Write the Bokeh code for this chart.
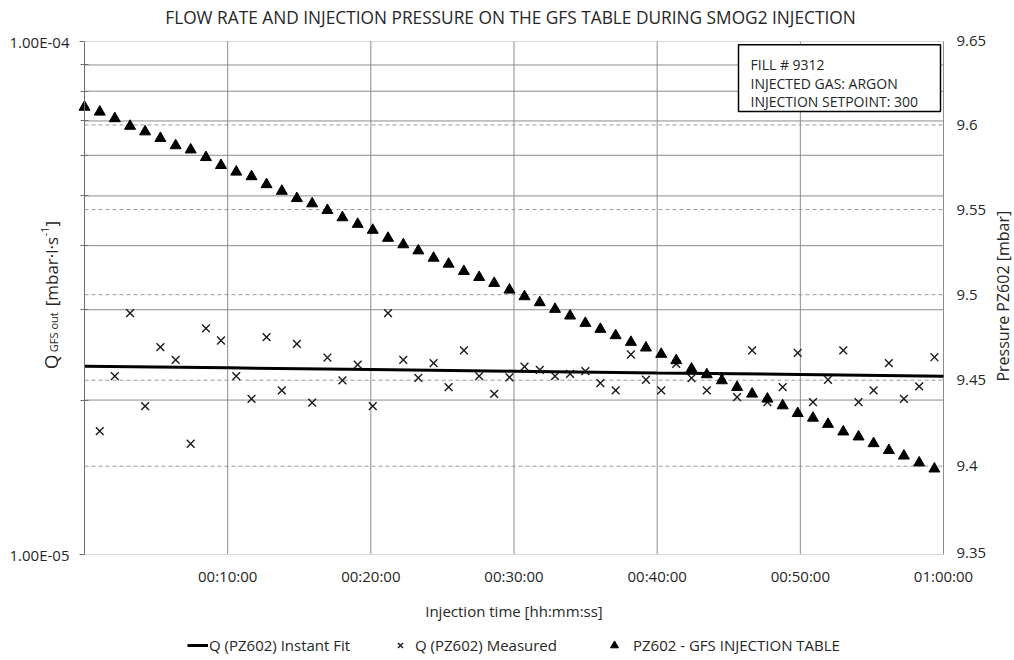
from math import pi
from bokeh.plotting import figure
from bokeh.models import (Range1d, LinearAxis, FixedTicker, CustomJSTickFormatter,
                          Label, BoxAnnotation, Legend, LegendItem)
from bokeh.embed import file_html
from bokeh.resources import INLINE

# ---------------- data ----------------
# sample times in seconds from injection start
t_sec = [0, 64, 127, 191, 254, 318, 382, 445, 509, 572,
         636, 700, 763, 827, 890, 954, 1018, 1081, 1145, 1208,
         1272, 1336, 1399, 1463, 1526, 1590, 1654, 1717, 1781, 1844,
         1908, 1972, 2035, 2099, 2162, 2226, 2290, 2353, 2417, 2480,
         2544, 2608, 2671, 2735, 2798, 2862, 2926, 2989, 3053, 3116,
         3180, 3244, 3307, 3371, 3434, 3498, 3562]

# PZ602 pressure on the GFS injection table [mbar]
pz602 = [9.6106, 9.6077, 9.6038, 9.5993, 9.5960, 9.5921, 9.5878, 9.5853, 9.5808, 9.5761,
         9.5722, 9.5695, 9.5648, 9.5609, 9.5566, 9.5535, 9.5496, 9.5453, 9.5414, 9.5379,
         9.5332, 9.5294, 9.5258, 9.5215, 9.5180, 9.5137, 9.5102, 9.5067, 9.5028, 9.4989,
         9.4954, 9.4915, 9.4876, 9.4833, 9.4798, 9.4761, 9.4722, 9.4689, 9.4652, 9.4615,
         9.4566, 9.4533, 9.4498, 9.4459, 9.4420, 9.4391, 9.4352, 9.4307, 9.4280, 9.4244,
         9.4200, 9.4171, 9.4132, 9.4092, 9.4060, 9.4020, 9.3985]

# measured flow (from the 2nd sample on) [mbar l/s]
q_measured = [1.739e-05, 2.226e-05, 2.954e-05, 1.946e-05, 2.536e-05, 2.396e-05, 1.644e-05, 2.758e-05, 2.613e-05, 2.226e-05,
              2.011e-05, 2.652e-05, 2.088e-05, 2.575e-05, 1.978e-05, 2.421e-05, 2.184e-05, 2.346e-05, 1.946e-05, 2.954e-05,
              2.396e-05, 2.210e-05, 2.360e-05, 2.119e-05, 2.499e-05, 2.226e-05, 2.057e-05, 2.215e-05, 2.325e-05, 2.291e-05,
              2.226e-05, 2.250e-05, 2.277e-05, 2.158e-05, 2.088e-05, 2.454e-05, 2.191e-05, 2.088e-05, 2.353e-05, 2.206e-05,
              2.088e-05, 2.223e-05, 2.026e-05, 2.499e-05, 1.981e-05, 2.119e-05, 2.473e-05, 1.981e-05, 2.191e-05, 2.499e-05,
              1.981e-05, 2.088e-05, 2.360e-05, 2.011e-05, 2.126e-05, 2.424e-05]
t_measured = t_sec[1:]

# instant fit
t_fit = [0, 600, 1200, 1800, 2400, 3000, 3600]
q_fit = [2.328e-05, 2.311e-05, 2.294e-05, 2.277e-05, 2.259e-05, 2.243e-05, 2.226e-05]

x_ticks = [600, 1200, 1800, 2400, 3000, 3600]
x_tick_labels = ["00:10:00", "00:20:00", "00:30:00", "00:40:00", "00:50:00", "01:00:00"]
q_major = [1e-05, 1e-04]
q_minor = [2e-05, 3e-05, 4e-05, 5e-05, 6e-05, 7e-05, 8e-05, 9e-05]
p_ticks = [9.35, 9.40, 9.45, 9.50, 9.55, 9.60, 9.65]
p_dashed = [9.40, 9.45, 9.50, 9.55, 9.60]
T_MIN, T_MAX = 0, 3600
Q_MIN, Q_MAX = 1e-05, 1e-04
P_MIN, P_MAX = 9.35, 9.65

title_text = "FLOW RATE AND INJECTION PRESSURE ON THE GFS TABLE DURING SMOG2 INJECTION"
info_lines = ["FILL # 9312", "INJECTED GAS: ARGON", "INJECTION SETPOINT: 300"]
legend_labels = ["Q (PZ602) Instant Fit", "Q (PZ602) Measured", "PZ602 - GFS INJECTION TABLE"]

FONT = "Open Sans"
TXT = "#262626"
GRID = "#8c8c8c"

# ---------------- layout (pixel geometry of the plotting area) ----------------
W, H = 1014, 660
X0, X1, Y0, Y1 = 84.0, 943.0, 41.0, 554.0          # plotting area in page pixels
sx_per_t = (X1 - X0) / (T_MAX - T_MIN)
dec_px = (Y1 - Y0)                                  # pixels for one decade
p_px = (Y1 - Y0) / (P_MAX - P_MIN)

x_lo = T_MIN - X0 / sx_per_t
x_hi = T_MAX + (W - X1) / sx_per_t
q_lo = Q_MIN * 10 ** (-(H - Y1) / dec_px)
q_hi = Q_MAX * 10 ** (Y0 / dec_px)
p_lo = P_MIN - (H - Y1) / p_px
p_hi = P_MAX + Y0 / p_px

def sx(px):
    return T_MIN + (px - X0) / sx_per_t
def sy(py):
    return P_MAX - (py - Y0) / p_px

p = figure(width=W, height=H, output_backend="svg", toolbar_location=None,
           x_range=Range1d(x_lo, x_hi), y_range=Range1d(q_lo, q_hi), y_axis_type="log",
           min_border=0)
p.extra_y_ranges = {"p": Range1d(p_lo, p_hi)}
p.outline_line_color = None
p.background_fill_color = "white"
p.border_fill_color = "white"
p.xgrid.visible = False
p.ygrid.visible = False

# x axis
xa = p.xaxis[0]
xa.fixed_location = Q_MIN
xa.bounds = (T_MIN, T_MAX)
xa.ticker = FixedTicker(ticks=x_ticks)
xa.major_label_overrides = {t: l for t, l in zip(x_ticks, x_tick_labels)}
xa.axis_line_color = "#d9d9d9"
xa.major_tick_line_color = None
xa.minor_tick_line_color = None
xa.major_tick_out = 0
xa.major_tick_in = 0
xa.major_label_standoff = 11
xa.major_label_text_font = FONT
xa.major_label_text_font_size = "15px"
xa.major_label_text_color = TXT

# left (log) axis
ya = p.yaxis[0]
ya.fixed_location = T_MIN
ya.bounds = (Q_MIN, Q_MAX)
ya.ticker = FixedTicker(ticks=q_major, minor_ticks=q_minor)
ya.formatter = CustomJSTickFormatter(code="""
var s = tick.toExponential(2).toUpperCase().split('E');
var e = parseInt(s[1]);
var a = Math.abs(e);
return s[0] + 'E' + (e < 0 ? '-' : '+') + (a < 10 ? '0' : '') + a;
""")
ya.axis_line_color = "#6e6e6e"
ya.major_tick_line_color = "#6e6e6e"
ya.minor_tick_line_color = "#6e6e6e"
ya.major_tick_out = 5
ya.major_tick_in = 0
ya.minor_tick_out = 4
ya.minor_tick_in = 4
ya.major_label_standoff = 10
ya.major_label_text_font = FONT
ya.major_label_text_font_size = "15px"
ya.major_label_text_color = TXT

# right (pressure) axis
ra = LinearAxis(y_range_name="p", ticker=FixedTicker(ticks=p_ticks),
                formatter=CustomJSTickFormatter(code="return (Math.round(tick*100)/100).toString();"))
ra.fixed_location = T_MAX
ra.bounds = (P_MIN, P_MAX)
ra.axis_line_color = None
ra.major_tick_line_color = None
ra.minor_tick_line_color = None
ra.major_tick_out = 0
ra.major_tick_in = 0
ra.major_label_standoff = 13
ra.major_label_text_font = FONT
ra.major_label_text_font_size = "15px"
ra.major_label_text_color = TXT
p.add_layout(ra, "right")

# plot-area border and grid lines
p.quad(left=[T_MIN], right=[T_MAX], bottom=[Q_MIN], top=[Q_MAX],
       fill_color="white", line_color="#d9d9d9", line_width=1)
p.segment(x0=x_ticks, x1=x_ticks, y0=[Q_MIN] * len(x_ticks), y1=[Q_MAX] * len(x_ticks),
          line_color=GRID, line_width=1)
p.segment(x0=[T_MIN] * len(q_minor), x1=[T_MAX] * len(q_minor), y0=q_minor, y1=q_minor,
          line_color=GRID, line_width=1)
p.segment(x0=[T_MIN] * len(p_dashed), x1=[T_MAX] * len(p_dashed), y0=p_dashed, y1=p_dashed,
          line_color="#9a9a9a", line_width=1, line_dash="4 3", y_range_name="p")

# data glyphs
r_fit = p.line(t_fit, q_fit, line_color="black", line_width=3)
r_meas = p.scatter(t_measured, q_measured, marker="x", size=11, line_color="#1a1a1a", line_width=1.4)
r_pz = p.scatter(t_sec, pz602, marker="triangle", size=11, fill_color="black",
                 line_color="black", y_range_name="p")

# info box
box = BoxAnnotation(left=sx(738), right=sx(940), top=sy(45), bottom=sy(113), y_range_name="p",
                    fill_color="white", fill_alpha=1.0, line_color="black", line_alpha=1.0,
                    line_width=1.5)
p.add_layout(box)
for i, line in enumerate(info_lines):
    p.add_layout(Label(x=sx(750), y=sy(65 + 19 * i), y_range_name="p", text=line,
                       text_font=FONT, text_font_size="14px", text_color=TXT,
                       text_align="left", text_baseline="alphabetic"))

# title
p.add_layout(Label(x=sx(510), y=sy(17), y_range_name="p", text=title_text,
                   text_font=FONT, text_font_size="17.3px", text_color=TXT,
                   text_align="center", text_baseline="alphabetic"))

# x axis title
p.add_layout(Label(x=sx(513.5), y=sy(611), y_range_name="p", text="Injection time [hh:mm:ss]",
                   text_font=FONT, text_font_size="15px", text_color=TXT,
                   text_align="center", text_baseline="alphabetic"))

# right axis title
p.add_layout(Label(x=sx(1002), y=sy(299), y_range_name="p", text="Pressure PZ602 [mbar]",
                   angle=pi / 2, text_font=FONT, text_font_size="16px", text_color=TXT,
                   text_align="center", text_baseline="middle"))

# left axis title (with subscript and superscript); bottom pieces anchored at their start,
# top pieces anchored at their end
left_parts = [("Q", "19px", 50.5, 372, "left"),
              ("GFS out", "11px", 52.5, 355, "left"),
              ("[mbar\u00b7l\u00b7s", "17px", 50.5, 239.5, "right"),
              ("-1", "11px", 44.0, 229.0, "right"),
              ("]", "17px", 50.5, 223.5, "right")]
for txt, fs, px, py, al in left_parts:
    p.add_layout(Label(x=sx(px), y=sy(py), y_range_name="p", text=txt, angle=pi / 2,
                       text_font=FONT, text_font_size=fs, text_color=TXT,
                       text_align=al, text_baseline="alphabetic"))

# legends (one per item)
leg_specs = [(r_fit, legend_labels[0], 187, 21, 1),
             (r_meas, legend_labels[1], 391, 18, 6),
             (r_pz, legend_labels[2], 604, 20, 9)]
for r, lab, lx, gw, so in leg_specs:
    lg = Legend(items=[LegendItem(label=lab, renderers=[r])], location=(lx, H - 655),
                orientation="horizontal", padding=0, margin=0, spacing=0,
                glyph_width=gw, glyph_height=20, label_height=20, label_standoff=so,
                label_text_font=FONT, label_text_font_size="15px", label_text_color=TXT,
                background_fill_alpha=0, border_line_color=None)
    p.add_layout(lg, "center")

open("out.html", "w").write(file_html(p, INLINE))
